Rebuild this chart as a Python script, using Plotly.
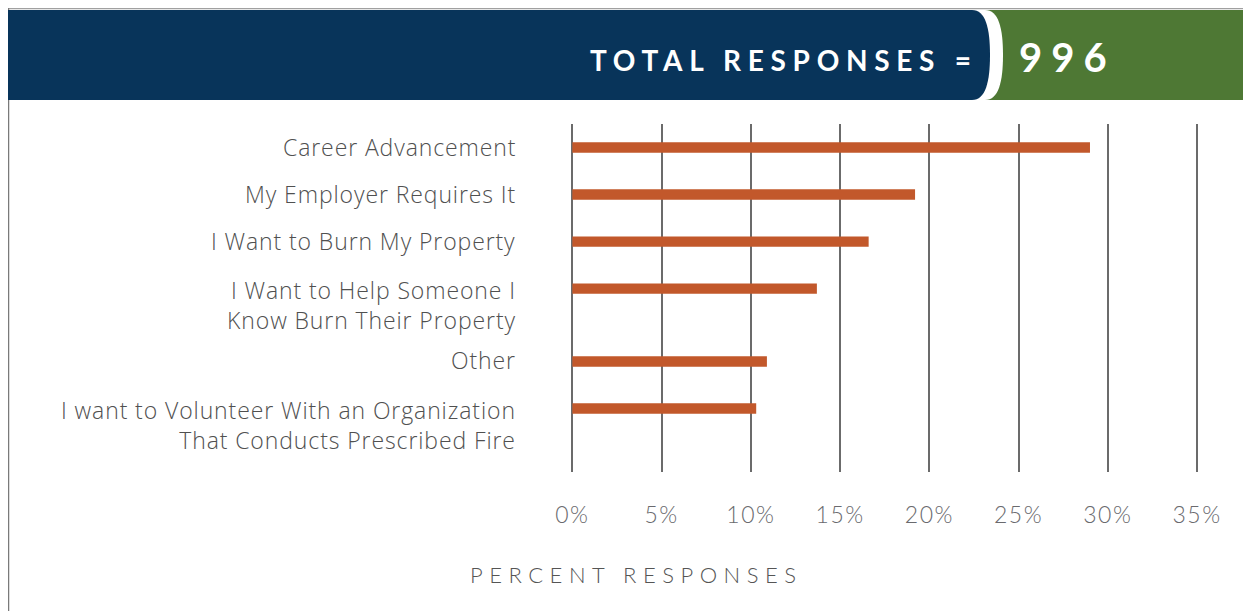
import plotly.graph_objects as go

# ---- data ----
categories = [
    "Career Advancement",
    "My Employer Requires It",
    "I Want to Burn My Property",
    "I Want to Help Someone I<br>Know Burn Their Property",
    "Other",
    "I want to Volunteer With an Organization<br>That Conducts Prescribed Fire",
]
percent = [29.0, 19.2, 16.6, 13.7, 10.9, 10.3]
tick_vals = [0, 5, 10, 15, 20, 25, 30, 35]
tick_text = ["0%", "5%", "10%", "15%", "20%", "25%", "30%", "35%"]
total_label = "TOTAL RESPONSES ="
total_value = "996"
axis_title = "PERCENT RESPONSES"

# ---- colours ----
NAVY = "#08345A"
GREEN = "#4E7834"
BAR = "#C2582B"
GRID = "#6B6B6B"
TEXT = "#505050"

OFF = 8  # page body margin
W, H = 1251 - OFF, 611 - OFF
ML, MR, MT, MB = 567 - OFF, 45, 124 - OFF, 139
PW, PH = W - ML - MR, H - MT - MB


def px(x):  # page x -> paper
    return (x - OFF - ML) / PW


def py(y):  # page y -> paper
    return (H - MB - (y - OFF)) / PH


# category slot positions derived from the number of label lines
extra_line = 0.55
pos = []
cur = 0.0
for c in categories:
    pos.append(cur)
    cur += 1 + extra_line * (c.count("<br>"))

fig = go.Figure(
    go.Bar(
        x=percent,
        y=pos,
        orientation="h",
        width=0.22,
        marker=dict(color=BAR, line=dict(width=0)),
        hovertext=[c.replace("<br>", " ") for c in categories],
        hoverinfo="text+x",
    )
)

# category labels (first line aligned with the bar)
for c, p in zip(categories, pos):
    multi = "<br>" in c
    fig.add_annotation(
        x=0, xref="paper", y=p, yref="y",
        text=f'<span style="letter-spacing:0.9px">{c}</span>', showarrow=False,
        xanchor="right", xshift=-49,
        yanchor="top" if multi else "middle",
        yshift=17 if multi else 1,
        align="right",
        font=dict(family="Open Sans", size=23, color=TEXT, weight=300),
    )

fig.update_layout(
    width=W, height=H,
    margin=dict(l=ML, r=MR, t=MT, b=MB),
    paper_bgcolor="white", plot_bgcolor="white",
    showlegend=False,
    xaxis=dict(
        range=[-0.3, 35.5],
        tickvals=tick_vals,
        ticktext=[f'<span style="letter-spacing:1.5px">{t}</span>' for t in tick_text],
        showgrid=True, gridcolor=GRID, gridwidth=2,
        zeroline=True, zerolinecolor=GRID, zerolinewidth=2,
        showline=False, ticks="",
        ticklabelstandoff=27,
        tickfont=dict(family="Lato", size=23, color="#6A6A6E", weight=300),
    ),
    yaxis=dict(
        range=[cur - 0.2, -0.5],
        showticklabels=False, showgrid=False, zeroline=False, ticks="",
    ),
)

shapes = []
# frame lines
shapes.append(dict(type="line", xref="paper", yref="paper",
                   x0=px(0), x1=px(1251), y0=py(8.5), y1=py(8.5),
                   line=dict(color="#A0A0A0", width=1.5)))
shapes.append(dict(type="line", xref="paper", yref="paper",
                   x0=px(8.5), x1=px(8.5), y0=py(8), y1=py(611),
                   line=dict(color="#7A7A7A", width=1.5)))
# green block
shapes.append(dict(type="rect", xref="paper", yref="paper",
                   x0=px(975), x1=px(1251), y0=py(100), y1=py(10),
                   fillcolor=GREEN, line=dict(width=0), layer="above"))


def rounded(x_end, bulge):
    return (f"M {px(8)},{py(10)} L {px(x_end)},{py(10)} "
            f"C {px(x_end + (bulge - x_end) * 0.75)},{py(10)} {px(bulge)},{py(28)} {px(bulge)},{py(55)} "
            f"C {px(bulge)},{py(82)} {px(x_end + (bulge - x_end) * 0.75)},{py(100)} {px(x_end)},{py(100)} "
            f"L {px(8)},{py(100)} Z")


shapes.append(dict(type="path", xref="paper", yref="paper", path=rounded(985, 1003),
                   fillcolor="white", line=dict(width=0), layer="above"))
shapes.append(dict(type="path", xref="paper", yref="paper", path=rounded(972, 990),
                   fillcolor=NAVY, line=dict(width=0), layer="above"))
fig.update_layout(shapes=shapes)

fig.add_annotation(
    x=px(980), xref="paper", y=py(60), yref="paper",
    text=f'<span style="letter-spacing:6.7px"><b>{total_label}</b></span>',
    showarrow=False, xanchor="right", yanchor="middle",
    font=dict(family="Lato", size=28, color="white"),
)
fig.add_annotation(
    x=px(1017), xref="paper", y=py(57), yref="paper",
    text=f'<span style="letter-spacing:9px"><b>{total_value}</b></span>',
    showarrow=False, xanchor="left", yanchor="middle",
    font=dict(family="Lato", size=40, color="white"),
)
fig.add_annotation(
    x=px(636), xref="paper", y=py(574), yref="paper",
    text=f'<span style="letter-spacing:6.5px">{axis_title}</span>',
    showarrow=False, xanchor="center", yanchor="middle",
    font=dict(family="Lato", size=22, color="#555555", weight=300),
)

fig.write_html("out.html")
